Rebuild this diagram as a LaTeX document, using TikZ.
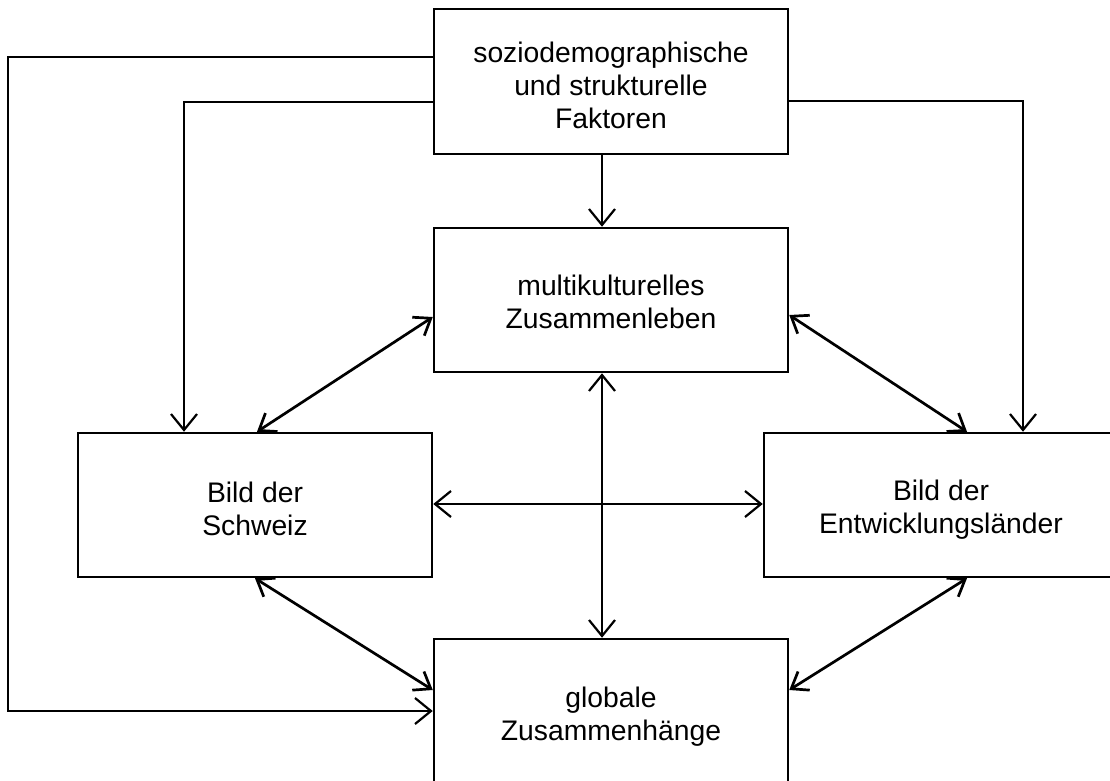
\documentclass[tikz,border=0pt]{standalone}
\usepackage{fontspec}
\setmainfont{Liberation Sans}
\usetikzlibrary{arrows.meta}
\begin{document}
\begin{tikzpicture}[x=1pt,y=-1pt,
  box/.style={draw, line width=2.5pt, rectangle, inner sep=0pt,
    minimum width=354pt, minimum height=144pt},
  txt/.style={inner sep=0pt, align=center, font=\fontsize{28.3}{33}\selectfont},
  conn/.style={line width=2.2pt, -{Straight Barb[length=16pt,width=26pt]}},
  both/.style={line width=2.2pt, {Straight Barb[length=16pt,width=26pt]}-{Straight Barb[length=16pt,width=26pt]}},
  diag/.style={line width=2.7pt, {Straight Barb[length=15pt,width=22pt]}-{Straight Barb[length=15pt,width=22pt]}}
]
\clip (0,0) rectangle (1110,781);
\fill[white] (0,0) rectangle (1110,781);
\node[box, minimum height=145pt] (top) at (611,81.5) {};
\node[box] (mid) at (611,300) {};
\node[box] (left) at (255,505) {};
\node[box] (right) at (941,505) {};
\node[box] (bot) at (611,711) {};

\node[txt, yshift=-4pt] (ttop) at (top) {soziodemographische\\und strukturelle\\Faktoren};
\node[txt, yshift=-1.5pt] (tmid) at (mid) {multikulturelles\\Zusammenleben};
\node[txt, yshift=-4pt] (tleft) at (left) {Bild der\\Schweiz};
\node[txt, yshift=-5pt] (tright) at (right) {Bild der\\Entwicklungsländer};
\node[txt, yshift=-6pt] (tbot) at (bot) {globale\\Zusammenhänge};

\draw[conn] ([yshift=24.5pt]top.west) -- ++(-425,0) |- (bot.west);
\draw[conn] ([yshift=-20.5pt]top.west) -| ([xshift=-71pt]left.north);
\draw[conn] ([yshift=-19.5pt]top.east) -| ([xshift=82pt]right.north);
\draw[conn] ([xshift=-9pt]top.south) -- ([xshift=-9pt]mid.north);
\draw[diag] ([yshift=-17pt]mid.west) -- ([xshift=2pt]left.north);
\draw[diag] ([yshift=-15pt]mid.east) -- ([xshift=26pt]right.north);
\draw[both] ([xshift=-9pt]mid.south) -- ([xshift=-9pt]bot.north);
\draw[both] ([yshift=1pt]left.east) -- ([yshift=1pt]right.west);
\draw[diag] (left.south) -- ([yshift=21pt]bot.west);
\draw[diag] ([xshift=26pt]right.south) -- ([yshift=21pt]bot.east);
\end{tikzpicture}
\end{document}
